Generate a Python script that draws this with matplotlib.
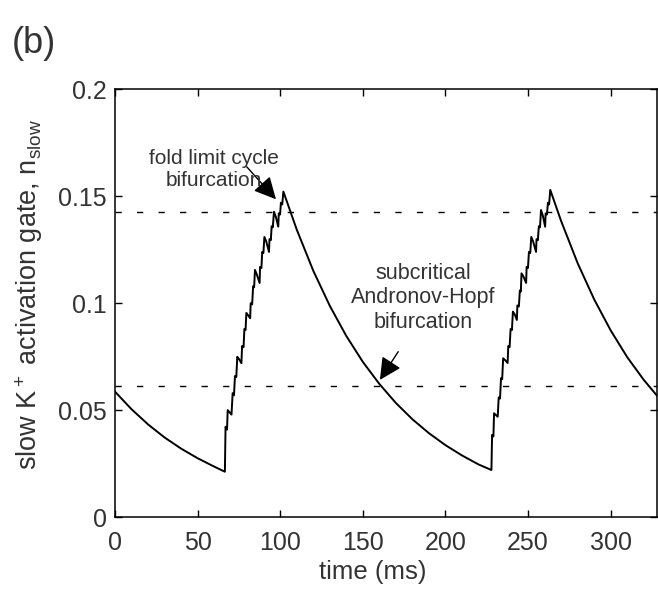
import numpy as np
import matplotlib
matplotlib.use('Agg')
import matplotlib.pyplot as plt

plt.rcParams['font.family'] = ['Liberation Sans', 'DejaVu Sans']
plt.rcParams['mathtext.fontset'] = 'custom'
plt.rcParams['mathtext.rm'] = 'Liberation Sans'
plt.rcParams['mathtext.it'] = 'Liberation Sans:italic'

# slow decay before the first burst
t_decay0 = [0, 10, 20, 30, 40, 50, 60, 66.5]
n_decay0 = [0.0587, 0.0505, 0.0434, 0.0373, 0.0321, 0.0276, 0.0237, 0.0213]

# first burst (stepwise rise)
t_burst1 = [66.9, 67.8, 68.2, 70.5, 71.2, 72.0, 72.6, 73.4, 74.0, 75.0, 76.5, 76.9,
            77.8, 78.3, 79.0, 79.5, 80.5, 81.8, 82.1, 83.0, 83.6, 84.2, 84.7, 85.8,
            87.5, 87.8, 88.6, 89.1, 89.8, 90.4, 91.5, 93.2, 93.5, 94.3, 94.8, 95.5,
            96.2, 97.3, 98.8, 99.1, 99.9, 100.4, 101.2, 101.9]
n_burst1 = [0.0423, 0.0410, 0.0501, 0.0480, 0.0580, 0.0570, 0.0660, 0.0655, 0.0750, 0.0740, 0.0720, 0.0800,
            0.0795, 0.0880, 0.0875, 0.0955, 0.0945, 0.0930, 0.1000, 0.0995, 0.1080, 0.1075, 0.1156, 0.1135,
            0.1095, 0.1170, 0.1165, 0.1240, 0.1235, 0.1310, 0.1290, 0.1240, 0.1300, 0.1295, 0.1360, 0.1355,
            0.1428, 0.1405, 0.1358, 0.1420, 0.1415, 0.1470, 0.1462, 0.1522]

# decay between bursts
t_decay1 = [110, 120, 130, 140, 150, 160, 170, 180, 190, 200, 210, 220, 227.8]
n_decay1 = [0.1344, 0.1152, 0.0988, 0.0847, 0.0726, 0.0623, 0.0534, 0.0458, 0.0393, 0.0337, 0.0289, 0.0247, 0.0221]

# second burst
t_burst2 = [228.2, 229.0, 229.4, 231.6, 232.2, 233.0, 233.6, 234.3, 234.9, 236.0, 237.6, 238.0,
            238.8, 239.4, 240.2, 240.8, 241.8, 243.2, 243.5, 244.4, 245.0, 245.6, 246.0, 247.2,
            248.8, 249.1, 249.9, 250.5, 251.3, 251.9, 253.0, 254.8, 255.1, 255.9, 256.5, 257.2,
            257.8, 258.9, 260.3, 260.6, 261.4, 262.0, 262.7, 263.4]
n_burst2 = [0.0385, 0.0378, 0.0486, 0.0470, 0.0560, 0.0555, 0.0650, 0.0645, 0.0743, 0.0735, 0.0721, 0.0800,
            0.0795, 0.0880, 0.0875, 0.0961, 0.0950, 0.0922, 0.0990, 0.0985, 0.1060, 0.1055, 0.1140, 0.1125,
            0.1095, 0.1170, 0.1165, 0.1240, 0.1235, 0.1310, 0.1290, 0.1240, 0.1300, 0.1295, 0.1360, 0.1355,
            0.1436, 0.1410, 0.1358, 0.1420, 0.1415, 0.1470, 0.1462, 0.1530]

# decay after the second burst
t_decay2 = [270, 280, 290, 300, 310, 320, 330]
n_decay2 = [0.1384, 0.1187, 0.1018, 0.0873, 0.0748, 0.0642, 0.0550]

fold_level = 0.1427
hopf_level = 0.0614

xticks = [0, 50, 100, 150, 200, 250, 300]
yticks = [0, 0.05, 0.1, 0.15, 0.2]
yticklabels = ['0', '0.05', '0.1', '0.15', '0.2']

t = t_decay0 + t_burst1 + t_decay1 + t_burst2 + t_decay2
n = n_decay0 + n_burst1 + n_decay1 + n_burst2 + n_decay2

fig = plt.figure(figsize=(6.58, 5.95), dpi=100)
ax = fig.add_axes([115 / 658, 1 - 517.3 / 595, 542 / 658, 428 / 595])

ax.plot(t, n, color='black', lw=1.4)
ax.axhline(fold_level, color='black', lw=1, dashes=(4.5, 11))
ax.axhline(hopf_level, color='black', lw=1, dashes=(4.5, 11))

ax.set_xlim(0, 328)
ax.set_ylim(0, 0.2)
ax.set_xticks(xticks)
ax.set_yticks(yticks)
ax.set_yticklabels(yticklabels)
ax.tick_params(direction='in', top=True, right=True, length=5, width=1,
               labelsize=18, labelcolor='#333333')
ax.tick_params(axis='x', pad=10)
ax.tick_params(axis='y', pad=6)
for s in ax.spines.values():
    s.set_linewidth(1.1)

ax.set_xlabel('time (ms)', fontsize=18.5, color='#333333')
ax.set_ylabel(r'slow K$^+$ activation gate, n$_{\mathrm{slow}}$', fontsize=19.5, color='#333333')
ax.xaxis.set_label_coords(0.476, -0.1)
ax.yaxis.set_label_coords(-0.13, 0.52)

arrow = dict(arrowstyle='-|>,head_length=0.9,head_width=0.45', mutation_scale=15,
             color='black', lw=1, shrinkA=0, shrinkB=0)
ax.annotate('', xy=(97.4, 0.1486), xytext=(79.7, 0.1638), arrowprops=arrow)
ax.annotate('', xy=(160.3, 0.0642), xytext=(171.4, 0.0774), arrowprops=arrow)
ax.text(60, 0.1625, 'fold limit cycle\nbifurcation', fontsize=15, color='#333333',
        ha='center', va='center', linespacing=1.2)
ax.text(186.3, 0.1025, 'subcritical\nAndronov-Hopf\nbifurcation', fontsize=15.5, color='#333333',
        ha='center', va='center', linespacing=1.2)

fig.text(0.018, 0.957, '(b)', fontsize=26, color='#333333', ha='left', va='top')

fig.savefig('out.png', dpi=100)
